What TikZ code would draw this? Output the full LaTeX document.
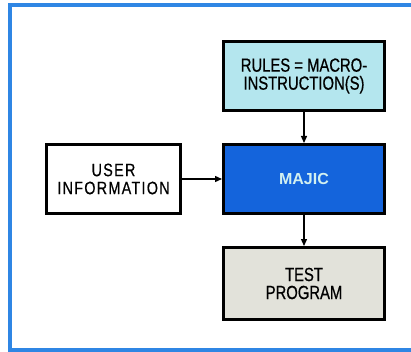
\documentclass[tikz,border=0pt]{standalone}
\usepackage{fontspec}
\usepackage{xcolor}
\usepackage{tikz}
\usetikzlibrary{arrows.meta,positioning}
\setmainfont{Liberation Sans}
\newfontfamily\narrowfont{Liberation Sans}[FakeStretch=0.78,FakeBold=0.6]
\newfontfamily\spacedfont{Liberation Sans}[FakeStretch=0.8,LetterSpace=7,FakeBold=0.4]
\definecolor{frameblue}{RGB}{47,134,228}
\definecolor{rulecyan}{RGB}{180,230,238}
\definecolor{majicblue}{RGB}{20,100,220}
\definecolor{majictext}{RGB}{210,240,240}
\definecolor{testgrey}{RGB}{226,226,218}

\begin{document}
\begin{tikzpicture}[
  x=1pt,y=-1pt,
  node distance=31pt and 40pt,
  box/.style={
    draw=black,
    line width=3pt,
    minimum height=69pt,
    minimum width=161pt,
    align=center,
    font=\narrowfont\fontsize{19}{18}\selectfont
  },
  arrow/.style={-{Triangle[length=7pt,width=6pt]},line width=1.3pt,draw=black}
]
\useasboundingbox (0,0) rectangle (411,352);
\draw[frameblue,line width=4pt] (411,5.5) -- (9.5,5.5) -- (9.5,350) -- (411,350);

\node[box,fill=majicblue,text=majictext,
  font=\bfseries\fontsize{16}{16}\selectfont] (majic) at (304,179) {MAJIC};
\node[box,fill=rulecyan,above=of majic] (rules) {RULES = MACRO-\\INSTRUCTION(S)};
\node[box,fill=testgrey,below=of majic,minimum height=72pt] (test) {TEST\\PROGRAM};
\node[box,fill=white,left=of majic,minimum width=134pt,
  font=\spacedfont\fontsize{18}{18}\selectfont] (user) {USER\\INFORMATION};

\draw[arrow] (rules) -- (majic);
\draw[arrow] (majic) -- (test);
\draw[arrow] (user) -- (majic);
\end{tikzpicture}
\end{document}
